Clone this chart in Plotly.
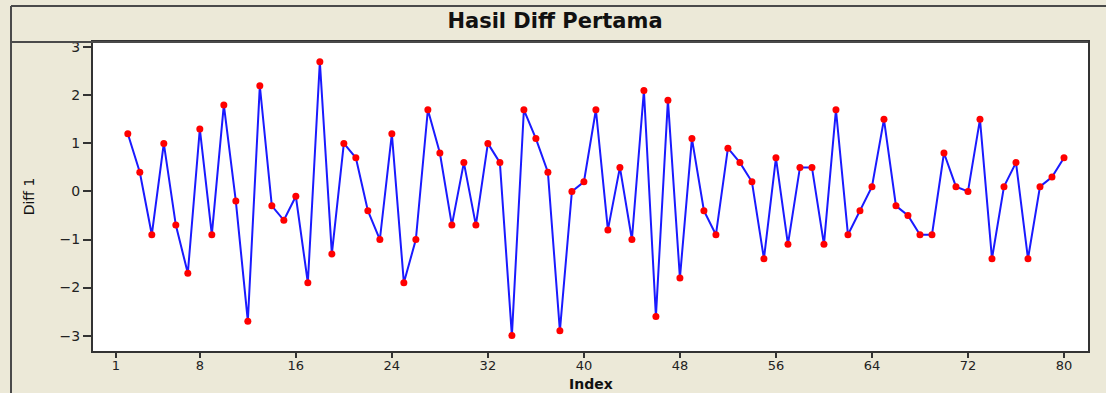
import plotly.graph_objects as go

# Data: first differences, index 2..80
index = list(range(2, 81))
diff1 = [
    1.2, 0.4, -0.9, 1.0, -0.7, -1.7, 1.3, -0.9, 1.8, -0.2,      # 2-11
    -2.7, 2.2, -0.3, -0.6, -0.1, -1.9, 2.7, -1.3, 1.0, 0.7,     # 12-21
    -0.4, -1.0, 1.2, -1.9, -1.0, 1.7, 0.8, -0.7, 0.6, -0.7,     # 22-31
    1.0, 0.6, -3.0, 1.7, 1.1, 0.4, -2.9, 0.0, 0.2, 1.7,         # 32-41
    -0.8, 0.5, -1.0, 2.1, -2.6, 1.9, -1.8, 1.1, -0.4, -0.9,     # 42-51
    0.9, 0.6, 0.2, -1.4, 0.7, -1.1, 0.5, 0.5, -1.1, 1.7,        # 52-61
    -0.9, -0.4, 0.1, 1.5, -0.3, -0.5, -0.9, -0.9, 0.8, 0.1,     # 62-71
    0.0, 1.5, -1.4, 0.1, 0.6, -1.4, 0.1, 0.3, 0.7,              # 72-80
]
x_ticks = [1, 8, 16, 24, 32, 40, 48, 56, 64, 72, 80]
y_ticks = [-3, -2, -1, 0, 1, 2, 3]

W, H = 1106, 393
ML, MR, MT, MB = 93, 18, 42, 42
PW, PH = W - ML - MR, H - MT - MB

def px_x(p):
    return (p - ML) / PW

def px_y(p):
    return (H - MB - p) / PH

fig = go.Figure()
fig.add_trace(go.Scatter(
    x=index, y=diff1, mode="lines+markers",
    line=dict(color="#1a1aff", width=2),
    marker=dict(color="#ff0000", size=7, line=dict(width=0)),
    showlegend=False,
))

frame_col = "#4a4a4a"
shapes = [
    dict(type="line", xref="paper", yref="paper", x0=px_x(11), x1=px_x(W + 5),
         y0=px_y(6), y1=px_y(6), line=dict(color=frame_col, width=2)),
    dict(type="line", xref="paper", yref="paper", x0=px_x(11), x1=px_x(11),
         y0=px_y(6), y1=px_y(H + 5), line=dict(color=frame_col, width=2)),
    dict(type="line", xref="paper", yref="paper", x0=px_x(11), x1=1,
         y0=1, y1=1, line=dict(color=frame_col, width=2)),
]

annotations = [
    dict(text="Index", xref="paper", yref="paper", x=0.5, y=px_y(384),
         xanchor="center", yanchor="middle", showarrow=False,
         font=dict(family="DejaVu Sans", size=14, color="#111111", weight="bold")),
]

fig.update_layout(
    width=W, height=H,
    margin=dict(l=ML, r=MR, t=MT, b=MB, autoexpand=False),
    paper_bgcolor="#ece9d8",
    plot_bgcolor="#ffffff",
    shapes=shapes,
    annotations=annotations,
    title=dict(
        text="Hasil Diff Pertama",
        x=555 / W, xanchor="center", xref="container",
        y=1 - 21 / H, yanchor="middle", yref="container",
        font=dict(family="DejaVu Sans", size=21, color="#111111", weight="bold"),
    ),
    font=dict(family="DejaVu Sans", color="#222222"),
    xaxis=dict(
        range=[-0.9, 82], tickmode="array", tickvals=x_ticks,
        ticks="outside", ticklen=5, tickwidth=2, tickcolor="#333333",
        showgrid=False, zeroline=False, automargin=False,
        showline=True, linecolor="#333333", linewidth=2, mirror=True,
        tickfont=dict(size=13, color="#222222"),
        ticklabelstandoff=-4,
    ),
    yaxis=dict(
        range=[-3.32, 3.11], tickmode="array", tickvals=y_ticks,
        ticktext=["\u22123", "\u22122", "\u22121", "0", "1", "2", "3"],
        ticks="outside", ticklen=8, tickwidth=2, tickcolor="#333333",
        showgrid=False, zeroline=False, automargin=False,
        showline=True, linecolor="#333333", linewidth=2, mirror=True,
        tickfont=dict(size=14, color="#222222"),
        title=dict(text="Diff 1", font=dict(size=14, color="#111111"), standoff=22),
    ),
)

fig.write_html("out.html")
